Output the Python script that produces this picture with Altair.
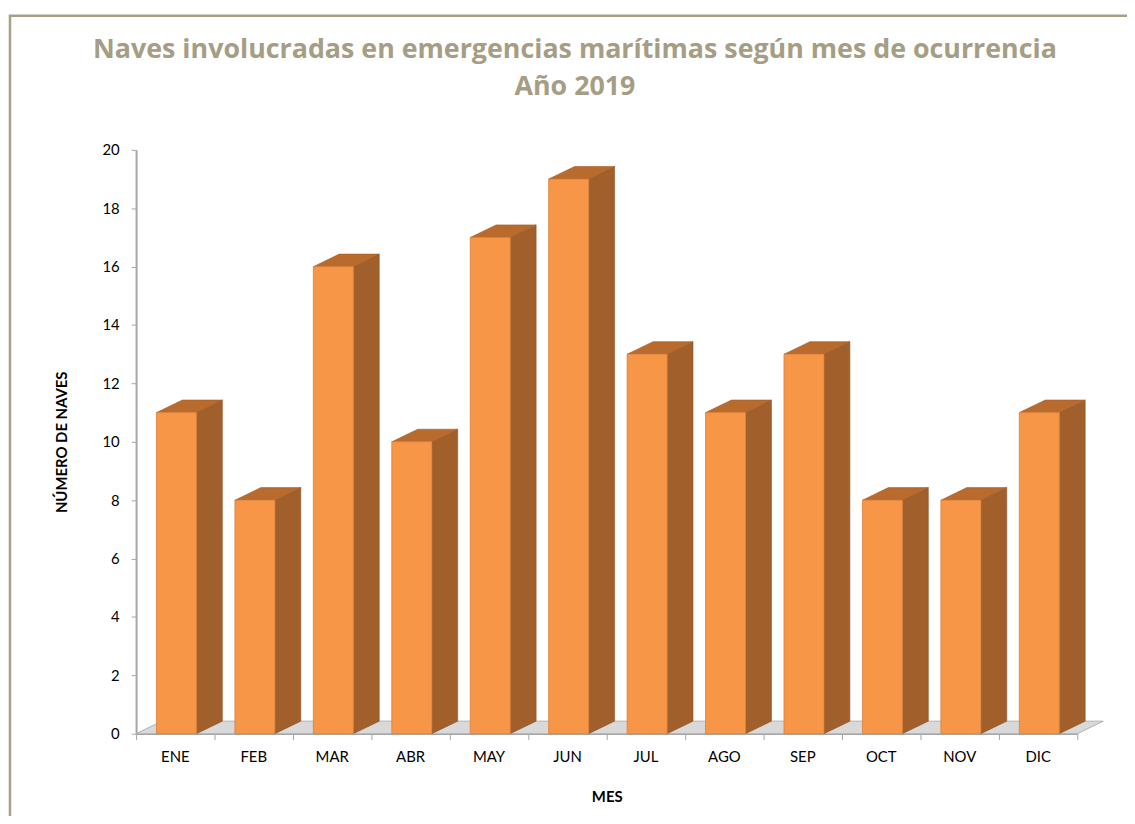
import altair as alt
import pandas as pd

months = ["ENE", "FEB", "MAR", "ABR", "MAY", "JUN", "JUL", "AGO", "SEP", "OCT", "NOV", "DIC"]
values = [11, 8, 16, 10, 17, 19, 13, 11, 13, 8, 8, 11]
title_lines = ["Naves involucradas en emergencias  marítimas según mes de ocurrencia", "Año 2019"]
y_ticks = list(range(0, 21, 2))

# 3D geometry in data units
FL, FR = 0.26, 0.77   # front face left/right within each month slot
DX, DY = 0.33, 0.43   # depth offsets (x units, y units)

W, H = 948, 588

front_rows, side_rows, top_rows, label_rows = [], [], [], []
for i, (m, v) in enumerate(zip(months, values)):
    xl, xr = i + FL, i + FR
    front_rows.append({"m": m, "x": xl, "x2": xr, "y": v, "y2": 0})
    side_rows += [
        {"m": m, "x": xr, "y": v, "y2": 0},
        {"m": m, "x": xr + DX, "y": v + DY, "y2": DY},
    ]
    top_rows += [
        {"m": m, "x": xl, "y": v, "y2": v},
        {"m": m, "x": xl + DX, "y": v + DY, "y2": v},
        {"m": m, "x": xr, "y": v + DY, "y2": v},
        {"m": m, "x": xr + DX, "y": v + DY, "y2": v + DY},
    ]
    label_rows.append({"m": m, "x": i + 0.5})

n = len(months)
floor_rows = [
    {"k": "f", "x": 0, "y": 0, "y2": 0},
    {"k": "f", "x": DX, "y": DY, "y2": 0},
    {"k": "f", "x": n, "y": DY, "y2": 0},
    {"k": "f", "x": n + DX, "y": DY, "y2": DY},
]

front = pd.DataFrame(front_rows)
side = pd.DataFrame(side_rows)
top = pd.DataFrame(top_rows)
floor = pd.DataFrame(floor_rows)
labels = pd.DataFrame(label_rows)
titles = pd.DataFrame({"t": title_lines, "line": [0, 1]})

xs = alt.Scale(domain=[0, n], nice=False, zero=False)
ys = alt.Scale(domain=[0, 20], nice=False)

x_axis = alt.Axis(values=list(range(0, n + 1)), labels=False, grid=False, domainColor="#A6A6A6",
                  domainWidth=1.5, tickColor="#A6A6A6", tickSize=6, title="MES",
                  titleFont="Lato", titleFontSize=15, titleFontWeight="bold", titleColor="#000000",
                  titlePadding=50)
y_axis = alt.Axis(values=y_ticks, grid=False, domainColor="#A6A6A6", domainWidth=2,
                  tickColor="#A6A6A6", tickSize=5, labelFont="Lato", labelFontSize=15,
                  labelColor="#000000", labelPadding=12, title="NÚMERO DE NAVES",
                  titleFont="Lato", titleFontSize=15, titleFontWeight="bold", titleColor="#000000",
                  titlePadding=33)

floor_l = alt.Chart(floor).mark_area(color="#D9D9D9", stroke="#B0B0B0", strokeWidth=1).encode(
    x=alt.X("x:Q", scale=xs, axis=x_axis),
    y=alt.Y("y:Q", scale=ys, axis=y_axis),
    y2="y2:Q",
    detail="k:N",
)

side_l = alt.Chart(side).mark_area(color="#A1602B", stroke="#8E5425", strokeWidth=0.6).encode(
    x=alt.X("x:Q", scale=xs), y=alt.Y("y:Q", scale=ys), y2="y2:Q", detail="m:N"
)
top_l = alt.Chart(top).mark_area(color="#B96A2D", stroke="#A35D27", strokeWidth=0.6).encode(
    x=alt.X("x:Q", scale=xs), y=alt.Y("y:Q", scale=ys), y2="y2:Q", detail="m:N"
)
front_l = alt.Chart(front).mark_rect(color="#F79646", stroke="#D9803A", strokeWidth=0.8).encode(
    x=alt.X("x:Q", scale=xs), x2="x2:Q", y=alt.Y("y:Q", scale=ys), y2="y2:Q"
)
label_l = alt.Chart(labels).mark_text(font="Lato", fontSize=15, color="#000000", baseline="alphabetic").encode(
    x=alt.X("x:Q", scale=xs), y=alt.value(H + 29), text="m:N"
)

def title_line(idx, ypix):
    return alt.Chart(titles).transform_filter(alt.datum.line == idx).mark_text(
        font="Open Sans", fontSize=27, fontWeight="bold", color="#A59D84",
        baseline="alphabetic", align="center"
    ).encode(x=alt.value(442), y=alt.value(ypix), text="t:N")

border = alt.Chart(pd.DataFrame({"b": [0]})).mark_rect(fill=None, stroke="#A89F85", strokeWidth=2.5).encode(
    x=alt.value(-127), x2=alt.value(1100), y=alt.value(-135), y2=alt.value(800)
)

chart = alt.layer(border, floor_l, side_l, top_l, front_l, label_l,
                  title_line(0, -93), title_line(1, -55)).properties(
    width=W, height=H,
    background="white",
    autosize=alt.AutoSizeParams(type="none"),
    padding={"left": 129, "top": 140, "right": 50, "bottom": 80},
).configure_view(stroke="transparent", strokeWidth=0)

chart.save("out.html", embed_options={"renderer": "svg", "actions": False})
